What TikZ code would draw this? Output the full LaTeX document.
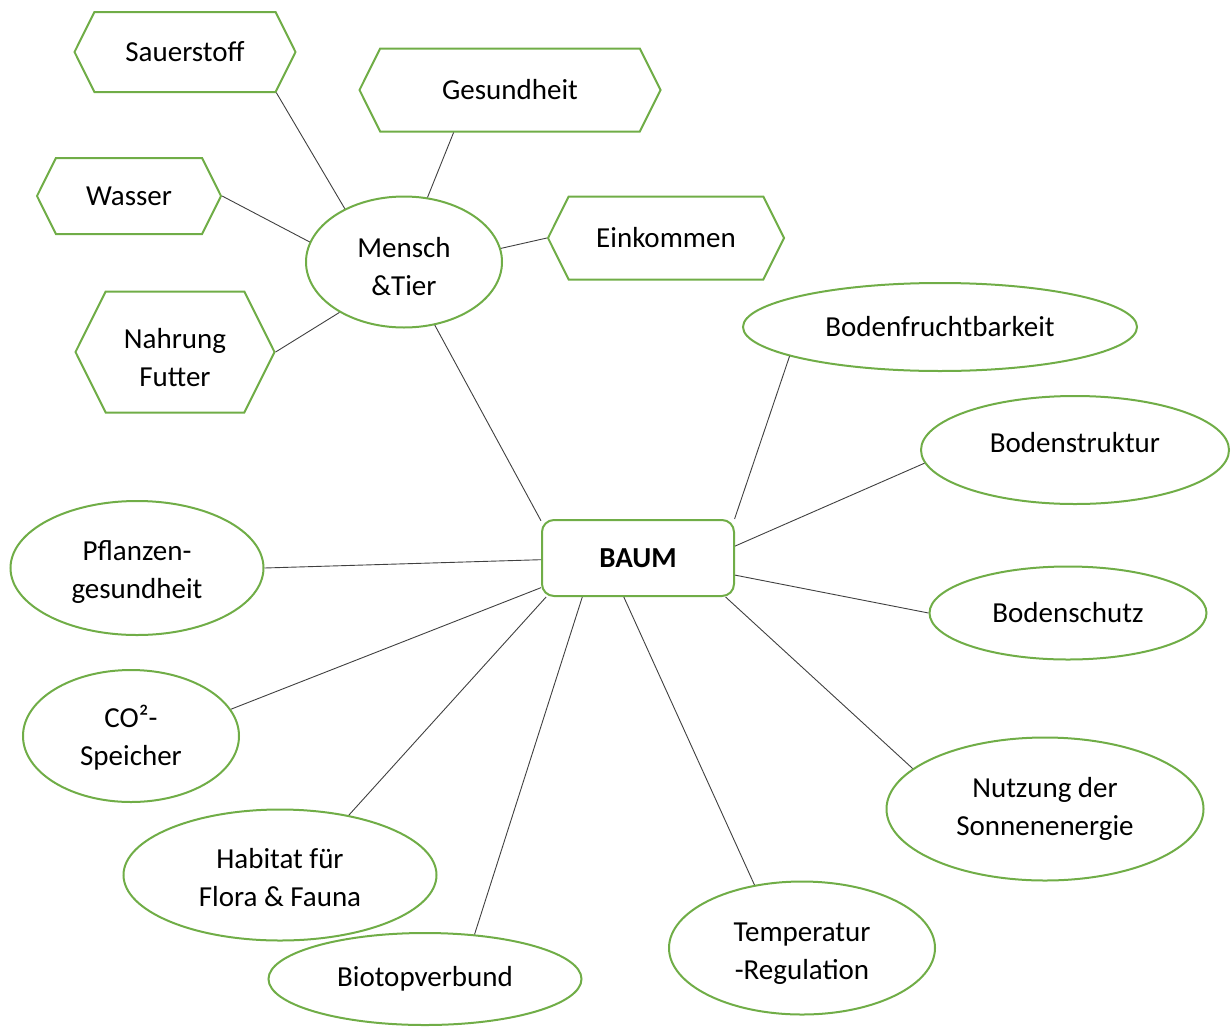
\documentclass[tikz,border=0pt]{standalone}
\usepackage{fontspec}
\setmainfont{Carlito}
\usetikzlibrary{
    shapes.geometric,  % ellipses
    shapes.symbols,  % signal shape for the hexagons
}
\definecolor{leaf}{HTML}{70AD47}
\tikzset{
    hexa/.style={draw=leaf, line width=2pt, signal, signal to=west and east,
        signal pointer angle=127, inner sep=0pt, align=center},
    ell/.style={draw=leaf, line width=2pt, ellipse, inner sep=0pt, align=center},
    root/.style={draw=leaf, line width=2pt, rectangle, rounded corners=12pt, inner sep=0pt},
    link/.style={draw=black!75, line width=0.9pt},
}
\newcommand{\tall}[1]{\rule{0pt}{#1}}  % pushes a label down a little
\newcommand{\deep}[1]{\rule[-#1]{0pt}{0pt}}  % pushes a label up a little

\begin{document}
\begin{tikzpicture}[x=1pt, y=-1pt, font=\fontsize{29}{38}\selectfont]
            \useasboundingbox (0,0) rectangle (1231,1028);

            % centre
            \node[root, minimum width=192, minimum height=76] (baum) at (638, 558) {\textbf{BAUM}};
            \node[ell, minimum width=196, minimum height=131] (mt) at (404, 262) {\tall{29pt}Mensch\\\&Tier};

            % around Mensch & Tier
            \node[hexa, minimum width=221, minimum height=80] (sauer) at (185, 52) {Sauerstoff};
            \node[hexa, minimum width=301, minimum height=83] (gesund) at (510, 90) {Gesundheit};
            \node[hexa, minimum width=184, minimum height=76] (wasser) at (129, 196) {Wasser};
            \node[hexa, minimum width=236, minimum height=83] (einkommen) at (666, 238) {Einkommen};
            \node[hexa, minimum width=199, minimum height=121] (nahrung) at (175, 352) {\tall{32pt}Nahrung\\Futter};

            % around BAUM
            \node[ell, minimum width=394, minimum height=88] (frucht) at (940, 327) {Bodenfruchtbarkeit};
            \node[ell, minimum width=308, minimum height=108] (struktur) at (1075, 450) {Bodenstruktur\deep{16pt}};
            \node[ell, minimum width=277, minimum height=93] (schutz) at (1068, 613) {Bodenschutz};
            \node[ell, minimum width=317, minimum height=143] (sonne) at (1045, 809) {Nutzung der\\Sonnenenergie};
            \node[ell, minimum width=266, minimum height=133] (temp) at (802, 948) {\tall{30pt}Temperatur\\-Regulation};
            \node[ell, minimum width=313, minimum height=92] (biotop) at (425, 979) {Biotopverbund};
            \node[ell, minimum width=313, minimum height=131] (habitat) at (280, 875) {\tall{25pt}Habitat für\\Flora \& Fauna};
            \node[ell, minimum width=216, minimum height=132] (co) at (131, 736) {\tall{25pt}CO²-\\Speicher};
            \node[ell, minimum width=253, minimum height=134] (pflanze) at (137, 568) {\tall{28pt}Pflanzen-\\gesundheit};

            \draw[link] (sauer.-24) -- (mt.138);
            \draw[link] (gesund.217) -- (mt.70);
            \draw[link] (wasser.east) -- (mt.168);
            \draw[link] (einkommen.west) -- (mt.8);
            \draw[link] (nahrung.east) -- (mt.218);
            \draw[link] (mt.296) -- (baum.159);

            \draw[link] (baum.22) -- (frucht.191);
            \draw[link] (baum.7) -- (struktur.185);
            \draw[link] (baum.-10) -- (schutz.180);
            \draw[link] (baum.-24) -- (sonne.163);
            \draw[link] (baum.250) -- (temp.127);
            \draw[link] (baum.215) -- (biotop.42);
            \draw[link] (baum.203) -- (habitat.41);
            \draw[link] (baum.197) -- (co.15);
            \draw[link] (baum.181) -- (pflanze.0);
        \end{tikzpicture}
\end{document}
